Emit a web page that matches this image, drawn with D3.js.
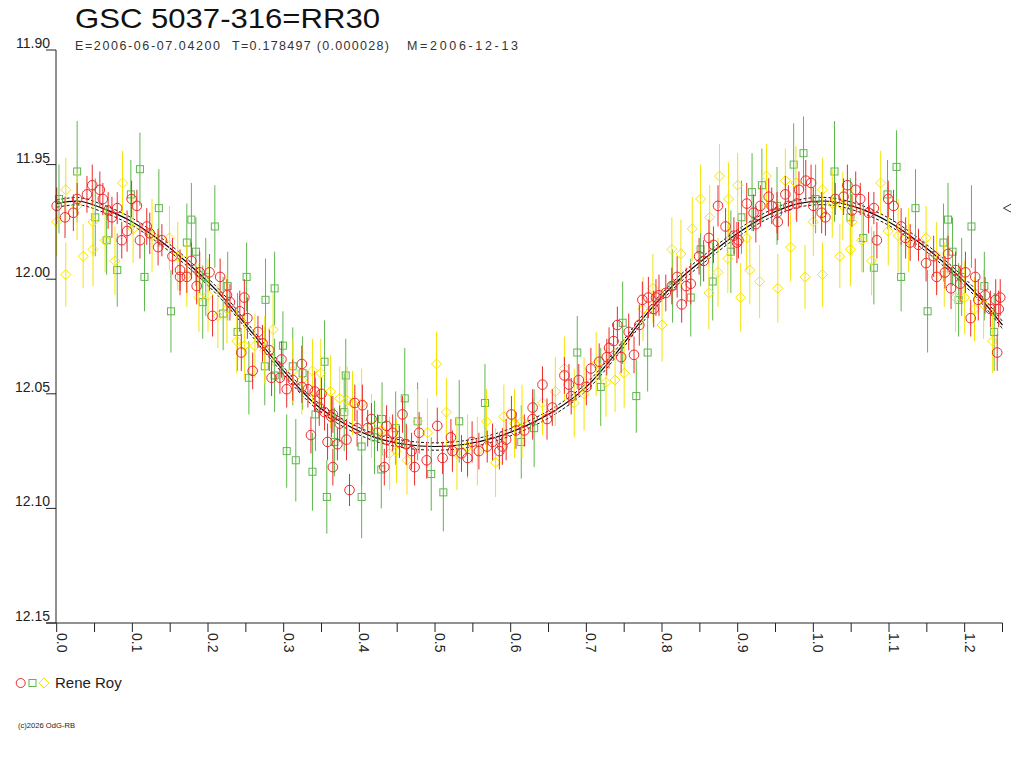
<!DOCTYPE html>
<html><head><meta charset="utf-8">
<script src="https://cdn.jsdelivr.net/npm/d3@7/dist/d3.min.js"></script>
<style>
html,body{margin:0;padding:0;background:#fff;}
svg{display:block;font-family:"Liberation Sans",Arial,sans-serif;}
</style></head>
<body>
<svg id="chart" width="1024" height="768"></svg>
<script>
// ---- data ----
const titleText = "GSC 5037-316=RR30";
const subEpoch = "E=2006-06-07.04200";
const subPeriod = "T=0.178497 (0.000028)";
const subDate = "M=2006-12-13";
const observer = "Rene Roy";
const copyright = "(c)2026 OdG-RB";

const xTicks = [0,0.05,0.1,0.15,0.2,0.25,0.3,0.35,0.4,0.45,0.5,0.55,0.6,0.65,0.7,0.75,0.8,0.85,0.9,0.95,1.0,1.05,1.1,1.15,1.2,1.25];
const xLabels = ["0.0","0.1","0.2","0.3","0.4","0.5","0.6","0.7","0.8","0.9","1.0","1.1","1.2"];
const yTicks = [11.90,11.95,12.00,12.05,12.10,12.15];
const yLabels = ["11.90","11.95","12.00","12.05","12.10","12.15"];

// fitted light curve (phase, magnitude) and its band half-width
const fitPhase = [0.00,0.03,0.06,0.10,0.14,0.18,0.22,0.26,0.30,0.34,0.38,0.42,0.46,0.50,0.54,0.58,0.62,0.66,0.70,0.74,0.78,0.82,0.86,0.90,0.94,0.98,1.02,1.06,1.10,1.14,1.18,1.22,1.25];
const fitMag   = [11.967,11.966,11.969,11.975,11.984,11.995,12.008,12.024,12.040,12.054,12.063,12.069,12.072,12.073,12.072,12.069,12.064,12.057,12.047,12.032,12.015,12.001,11.990,11.980,11.972,11.967,11.966,11.969,11.975,11.984,11.995,12.008,12.020];
const fitBand = 0.0016;
const maxMark = 11.969;

// observations [phase, magnitude, error]
const redPts = [
[0.000,11.968,0.008],[0.011,11.973,0.009],[0.022,11.971,0.008],[0.027,11.965,0.007],[0.040,11.963,0.008],[0.047,11.959,0.009],[0.057,11.961,0.008],[0.061,11.965,0.007],[0.068,11.970,0.008],[0.073,11.973,0.009],[0.080,11.969,0.007],[0.086,11.983,0.008],[0.093,11.979,0.009],[0.099,11.965,0.008],[0.106,11.968,0.007],[0.110,11.983,0.008],[0.119,11.977,0.008],[0.123,11.980,0.009],[0.134,11.986,0.008],[0.139,11.983,0.007],[0.153,11.990,0.008],[0.163,11.996,0.009],[0.163,11.999,0.008],[0.172,11.999,0.007],[0.178,11.992,0.008],[0.185,12.003,0.008],[0.189,11.997,0.009],[0.202,11.997,0.008],[0.206,12.016,0.009],[0.216,11.999,0.008],[0.225,12.007,0.007],[0.229,12.010,0.008],[0.242,12.014,0.009],[0.244,12.032,0.008],[0.248,12.008,0.008],[0.252,12.017,0.009],[0.259,12.040,0.008],[0.266,12.023,0.007],[0.272,12.028,0.008],[0.281,12.031,0.009],[0.284,12.043,0.008],[0.295,12.043,0.007],[0.297,12.035,0.008],[0.304,12.048,0.008],[0.312,12.044,0.009],[0.324,12.037,0.008],[0.324,12.047,0.007],[0.332,12.048,0.008],[0.336,12.068,0.008],[0.341,12.049,0.009],[0.347,12.056,0.008],[0.350,12.050,0.007],[0.354,12.058,0.008],[0.358,12.071,0.008],[0.363,12.060,0.009],[0.365,12.059,0.008],[0.365,12.082,0.008],[0.371,12.072,0.007],[0.374,12.063,0.008],[0.383,12.070,0.009],[0.387,12.092,0.007],[0.394,12.054,0.008],[0.397,12.065,0.008],[0.404,12.055,0.009],[0.411,12.065,0.008],[0.416,12.061,0.007],[0.424,12.067,0.008],[0.433,12.082,0.008],[0.436,12.064,0.009],[0.436,12.070,0.008],[0.444,12.067,0.008],[0.453,12.071,0.007],[0.457,12.059,0.008],[0.462,12.072,0.009],[0.469,12.075,0.008],[0.473,12.082,0.008],[0.479,12.067,0.009],[0.489,12.079,0.008],[0.503,12.064,0.008],[0.510,12.078,0.007],[0.521,12.069,0.008],[0.523,12.075,0.009],[0.535,12.076,0.008],[0.543,12.078,0.008],[0.549,12.071,0.009],[0.558,12.075,0.008],[0.569,12.073,0.007],[0.576,12.071,0.008],[0.585,12.075,0.008],[0.589,12.073,0.008],[0.594,12.070,0.009],[0.601,12.059,0.008],[0.607,12.066,0.008],[0.618,12.066,0.007],[0.629,12.056,0.008],[0.629,12.061,0.009],[0.642,12.046,0.008],[0.648,12.061,0.009],[0.655,12.056,0.008],[0.671,12.042,0.008],[0.677,12.046,0.009],[0.680,12.051,0.008],[0.690,12.044,0.007],[0.700,12.047,0.008],[0.706,12.039,0.009],[0.717,12.036,0.008],[0.727,12.034,0.008],[0.730,12.030,0.009],[0.736,12.027,0.008],[0.741,12.020,0.008],[0.746,12.034,0.007],[0.756,12.023,0.008],[0.763,12.033,0.008],[0.770,12.020,0.009],[0.774,12.009,0.008],[0.782,12.008,0.009],[0.789,12.013,0.008],[0.792,12.008,0.008],[0.796,12.007,0.009],[0.805,12.006,0.008],[0.813,12.003,0.008],[0.820,11.999,0.009],[0.826,12.011,0.008],[0.832,12.003,0.008],[0.838,12.002,0.009],[0.849,11.990,0.008],[0.855,11.992,0.009],[0.862,11.982,0.008],[0.868,11.985,0.008],[0.874,11.968,0.009],[0.884,11.977,0.008],[0.895,11.981,0.008],[0.899,11.984,0.009],[0.901,11.983,0.008],[0.912,11.967,0.009],[0.921,11.971,0.008],[0.924,11.976,0.008],[0.930,11.968,0.009],[0.941,11.964,0.008],[0.945,11.968,0.008],[0.952,11.971,0.009],[0.953,11.975,0.008],[0.963,11.963,0.008],[0.967,11.968,0.009],[0.978,11.967,0.008],[0.981,11.961,0.008],[0.990,11.957,0.009],[0.997,11.958,0.008],
[1.000,11.968,0.008],[1.011,11.971,0.009],[1.016,11.973,0.008],[1.029,11.965,0.007],[1.040,11.964,0.008],[1.045,11.959,0.009],[1.051,11.970,0.007],[1.056,11.961,0.008],[1.062,11.965,0.007],[1.073,11.971,0.009],[1.080,11.969,0.007],[1.084,11.983,0.008],[1.099,11.965,0.008],[1.106,11.968,0.007],[1.116,11.977,0.008],[1.122,11.982,0.009],[1.128,11.984,0.008],[1.139,11.985,0.007],[1.149,11.993,0.008],[1.159,11.990,0.009],[1.163,11.999,0.008],[1.174,11.997,0.007],[1.178,11.989,0.008],[1.182,12.004,0.009],[1.188,11.996,0.008],[1.194,12.002,0.008],[1.201,11.997,0.009],[1.208,12.017,0.008],[1.214,11.999,0.008],[1.218,12.009,0.009],[1.227,12.007,0.008],[1.234,12.013,0.008],[1.241,12.009,0.009],[1.243,12.032,0.008],[1.245,12.013,0.008],[1.247,12.008,0.008]
];
const greenPts = [
[0.003,11.965,0.015],[0.027,11.953,0.022],[0.051,11.973,0.017],[0.066,11.983,0.015],[0.080,11.996,0.016],[0.098,11.963,0.015],[0.110,11.952,0.016],[0.116,11.999,0.015],[0.135,11.969,0.017],[0.151,12.014,0.018],[0.172,11.984,0.017],[0.178,11.974,0.016],[0.184,11.988,0.015],[0.193,12.010,0.016],[0.197,11.999,0.017],[0.209,11.977,0.018],[0.220,12.015,0.016],[0.226,12.003,0.015],[0.239,12.023,0.017],[0.251,11.999,0.015],[0.254,12.043,0.016],[0.275,12.038,0.017],[0.276,12.009,0.018],[0.288,12.004,0.016],[0.288,12.042,0.016],[0.299,12.029,0.015],[0.304,12.075,0.016],[0.312,12.038,0.017],[0.316,12.079,0.018],[0.325,12.041,0.016],[0.338,12.084,0.017],[0.342,12.059,0.016],[0.354,12.036,0.018],[0.357,12.095,0.016],[0.367,12.071,0.015],[0.380,12.058,0.017],[0.382,12.042,0.016],[0.403,12.073,0.017],[0.403,12.095,0.018],[0.420,12.069,0.016],[0.429,12.083,0.017],[0.430,12.061,0.016],[0.448,12.065,0.016],[0.460,12.052,0.022],[0.477,12.062,0.017],[0.495,12.085,0.016],[0.511,12.093,0.017],[0.532,12.062,0.018],[0.566,12.054,0.017],[0.614,12.071,0.016],[0.631,12.065,0.017],[0.688,12.032,0.016],[0.719,12.047,0.017],[0.748,12.019,0.018],[0.766,12.051,0.016],[0.781,12.032,0.017],[0.814,12.003,0.016],[0.838,12.008,0.017],[0.851,11.987,0.016],[0.867,12.001,0.017],[0.891,11.988,0.018],[0.905,11.973,0.016],[0.919,11.962,0.017],[0.932,11.959,0.016],[0.952,11.968,0.017],[0.974,11.950,0.018],[0.987,11.945,0.016],
[1.003,11.965,0.015],[1.028,11.953,0.022],[1.049,11.973,0.017],[1.066,11.982,0.015],[1.080,11.995,0.016],[1.098,11.963,0.015],[1.110,11.951,0.016],[1.116,11.999,0.015],[1.135,11.969,0.017],[1.151,12.014,0.018],[1.172,11.984,0.017],[1.178,11.974,0.016],[1.184,11.988,0.015],[1.192,12.009,0.016],[1.196,11.999,0.017],[1.209,11.977,0.018],[1.226,12.003,0.015],[1.239,12.023,0.017]
];
const yellowPts = [
[0.000,11.975,0.015],[0.012,11.961,0.014],[0.012,11.998,0.014],[0.027,11.968,0.015],[0.035,11.990,0.014],[0.048,11.975,0.015],[0.048,11.987,0.016],[0.064,11.983,0.014],[0.077,11.992,0.015],[0.087,11.958,0.014],[0.101,11.978,0.015],[0.126,11.981,0.016],[0.149,11.982,0.014],[0.160,11.990,0.015],[0.172,11.998,0.014],[0.188,12.008,0.015],[0.200,12.007,0.016],[0.213,12.016,0.014],[0.225,12.013,0.015],[0.238,12.027,0.014],[0.248,12.029,0.015],[0.262,12.029,0.014],[0.275,12.031,0.015],[0.286,12.022,0.016],[0.312,12.040,0.014],[0.324,12.044,0.015],[0.338,12.040,0.014],[0.349,12.041,0.015],[0.362,12.049,0.016],[0.374,12.052,0.014],[0.384,12.053,0.015],[0.391,12.054,0.014],[0.403,12.054,0.015],[0.416,12.064,0.014],[0.429,12.066,0.015],[0.440,12.076,0.016],[0.449,12.075,0.014],[0.463,12.079,0.015],[0.477,12.062,0.014],[0.490,12.067,0.015],[0.502,12.037,0.014],[0.515,12.058,0.015],[0.529,12.076,0.016],[0.543,12.073,0.014],[0.556,12.075,0.015],[0.568,12.062,0.014],[0.580,12.080,0.015],[0.591,12.060,0.014],[0.605,12.063,0.015],[0.615,12.062,0.016],[0.642,12.054,0.014],[0.659,12.049,0.015],[0.671,12.039,0.014],[0.684,12.054,0.015],[0.697,12.050,0.016],[0.713,12.037,0.014],[0.726,12.045,0.015],[0.738,12.044,0.014],[0.750,12.041,0.015],[0.775,12.013,0.014],[0.788,12.004,0.015],[0.800,12.020,0.016],[0.813,11.987,0.014],[0.825,11.989,0.015],[0.840,11.978,0.014],[0.851,11.965,0.015],[0.862,12.006,0.016],[0.863,11.973,0.014],[0.874,11.997,0.015],[0.876,11.955,0.014],[0.887,11.991,0.015],[0.888,11.965,0.016],[0.900,11.959,0.014],[0.904,12.008,0.015],[0.912,11.982,0.014],[0.916,11.996,0.015],[0.929,12.001,0.016],[0.938,11.955,0.014],[0.953,12.004,0.015],[0.963,11.957,0.014],[0.970,11.986,0.015],[0.977,11.958,0.016],[0.989,11.999,0.014],
[1.000,11.975,0.015],[1.012,11.961,0.014],[1.012,11.998,0.014],[1.025,11.967,0.015],[1.035,11.990,0.014],[1.039,11.968,0.015],[1.049,11.987,0.016],[1.051,11.975,0.015],[1.064,11.983,0.014],[1.077,11.992,0.015],[1.089,11.958,0.014],[1.099,11.979,0.015],[1.112,11.981,0.016],[1.126,11.983,0.014],[1.149,11.982,0.014],[1.163,11.990,0.015],[1.173,11.998,0.014],[1.188,12.008,0.015],[1.200,12.008,0.016],[1.213,12.013,0.014],[1.225,12.011,0.015],[1.237,12.027,0.014]
];

// ---- drawing ----
const colRed = "#ec2a2a", colGreen = "#5cb84a", colYellow = "#f6e400", colAxis = "#222";
const svg = d3.select("#chart");
const x = d3.scaleLinear().domain([0, 1.25]).range([56.7, 1002.5]);
const y = d3.scaleLinear().domain([11.90, 12.15]).range([50, 623]);

// title
svg.append("text").attr("x", 75).attr("y", 28).attr("font-size", 28).attr("fill", "#111")
  .attr("textLength", 305).attr("lengthAdjust", "spacingAndGlyphs").text(titleText);
const sub = [[subEpoch, 75, 145], [subPeriod, 232, 157], [subDate, 407, 111]];
sub.forEach(s => svg.append("text").attr("x", s[1]).attr("y", 50).attr("font-size", 12.5).attr("fill", "#333")
  .attr("textLength", s[2]).attr("lengthAdjust", "spacing").text(s[0]));

// fit curve
const fitData = fitPhase.map((p, i) => [p, fitMag[i]]);
const line = d3.line().x(d => x(d[0])).y(d => y(d[1])).curve(d3.curveCatmullRom);
const gFit = svg.append("g");
gFit.append("path").attr("d", line(fitData.map(d => [d[0], d[1] - fitBand])))
  .attr("fill", "none").attr("stroke", "#111").attr("stroke-width", 1).attr("stroke-dasharray", "3,2");
gFit.append("path").attr("d", line(fitData.map(d => [d[0], d[1] + fitBand])))
  .attr("fill", "none").attr("stroke", "#111").attr("stroke-width", 1).attr("stroke-dasharray", "3,2");
gFit.append("path").attr("d", line(fitData)).attr("fill", "none").attr("stroke", "#000").attr("stroke-width", 1.2);

// points
function drawSeries(pts, color, shape) {
  const g = svg.append("g");
  g.selectAll("line").data(pts).join("line")
    .attr("x1", d => x(d[0])).attr("x2", d => x(d[0]))
    .attr("y1", d => y(d[1] - d[2])).attr("y2", d => y(d[1] + d[2]))
    .attr("stroke", color).attr("stroke-width", 1);
  const m = g.selectAll(".m").data(pts).join(shape === "circle" ? "circle" : shape === "square" ? "rect" : "path")
    .attr("fill", "none").attr("stroke", color).attr("stroke-width", 1);
  if (shape === "circle") m.attr("cx", d => x(d[0])).attr("cy", d => y(d[1])).attr("r", 4.8);
  else if (shape === "square") m.attr("x", d => x(d[0]) - 3.5).attr("y", d => y(d[1]) - 3.5).attr("width", 7).attr("height", 7);
  else m.attr("d", d => { const cx = x(d[0]), cy = y(d[1]), r = 5; return `M${cx},${cy - r}L${cx + r},${cy}L${cx},${cy + r}L${cx - r},${cy}Z`; });
}
drawSeries(greenPts, colGreen, "square");
drawSeries(yellowPts, colYellow, "diamond");
drawSeries(redPts, colRed, "circle");

// axes
const gx = svg.append("g").attr("transform", `translate(0,${y(12.15)})`);
gx.append("line").attr("x1", 46).attr("x2", x(1.25)).attr("stroke", colAxis);
gx.selectAll(".t").data(xTicks).join("line").attr("x1", d => x(d)).attr("x2", d => x(d))
  .attr("y1", 0).attr("y2", 9).attr("stroke", colAxis);
gx.selectAll(".lbl").data(xLabels).join("text")
  .attr("transform", d => `translate(${x(+d)},10) rotate(90)`)
  .attr("font-size", 14).attr("fill", colAxis).attr("text-anchor", "start").text(d => d);

const gy = svg.append("g").attr("transform", `translate(${x(0) - 0.7},0)`);
gy.append("line").attr("y1", y(11.90)).attr("y2", y(12.15)).attr("stroke", colAxis);
gy.selectAll(".t").data(yTicks).join("line").attr("x1", -10).attr("x2", 0)
  .attr("y1", d => y(d)).attr("y2", d => y(d)).attr("stroke", colAxis);
gy.selectAll(".lbl").data(yLabels).join("text")
  .attr("x", -6).attr("y", d => y(+d) - 2).attr("text-anchor", "end")
  .attr("font-size", 14).attr("fill", colAxis).text(d => d);

// maximum marker on the right
const my = y(maxMark);
svg.append("path").attr("d", `M${x(1.25) + 8.5},${my - 4}L${x(1.25) + 1},${my}L${x(1.25) + 8.5},${my + 4}`)
  .attr("fill", "none").attr("stroke", "#333").attr("stroke-width", 1);

// legend
svg.append("circle").attr("cx", 20.7).attr("cy", 683).attr("r", 4.5).attr("fill", "none").attr("stroke", colRed);
svg.append("rect").attr("x", 29).attr("y", 679.5).attr("width", 7).attr("height", 7).attr("fill", "none").attr("stroke", colGreen);
svg.append("path").attr("d", "M44,678L49,683L44,688L39,683Z").attr("fill", "none").attr("stroke", colYellow);
svg.append("text").attr("x", 55).attr("y", 688).attr("font-size", 15).attr("fill", "#222").text(observer);
svg.append("text").attr("x", 18).attr("y", 728).attr("font-size", 7.5).attr("fill", "#222")
  .attr("textLength", 57).attr("lengthAdjust", "spacingAndGlyphs").text(copyright);
</script>
</body></html>
